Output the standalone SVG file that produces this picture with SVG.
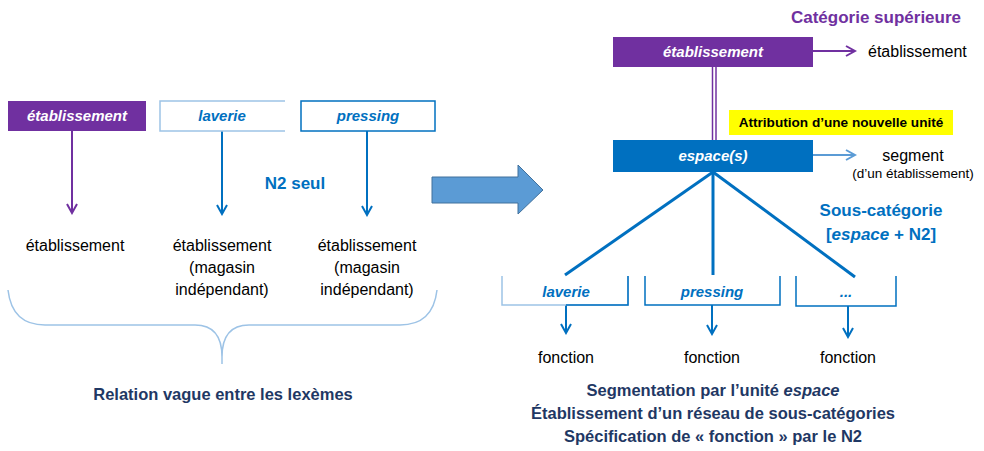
<svg xmlns="http://www.w3.org/2000/svg" width="984" height="451" viewBox="0 0 984 451">
<defs>
<style>
text{font-family:"Liberation Sans",Arial,sans-serif}
.blk{font-size:16px;fill:#000}
.it{font-style:italic;font-weight:bold;font-size:15px}
.nav{font-size:16.5px;font-weight:bold;fill:#1F3864}
.hd{font-size:17px;font-weight:bold}
</style>
<marker id="ap" viewBox="0 0 12 12" refX="10" refY="6" markerWidth="12" markerHeight="12" markerUnits="userSpaceOnUse" orient="auto"><path d="M1,1 L10,6 L1,11" fill="none" stroke="#7030A0" stroke-width="2"/></marker>
<marker id="ab" viewBox="0 0 12 12" refX="10" refY="6" markerWidth="12" markerHeight="12" markerUnits="userSpaceOnUse" orient="auto"><path d="M1,1 L10,6 L1,11" fill="none" stroke="#0070C0" stroke-width="2"/></marker>
<marker id="al" viewBox="0 0 12 12" refX="10" refY="6" markerWidth="12" markerHeight="12" markerUnits="userSpaceOnUse" orient="auto"><path d="M1,1 L10,6 L1,11" fill="none" stroke="#5B9BD5" stroke-width="2"/></marker>
</defs>
<rect width="984" height="451" fill="#fff"/>

<g id="connectors">
<line x1="72" y1="131" x2="72" y2="213" stroke="#7030A0" stroke-width="2" marker-end="url(#ap)"/>
<line x1="222" y1="131" x2="222" y2="214" stroke="#0070C0" stroke-width="2" marker-end="url(#ab)"/>
<line x1="367" y1="131" x2="367" y2="215" stroke="#0070C0" stroke-width="2" marker-end="url(#ab)"/>
<path d="M8,290 Q12,325 45,325 L195,325 Q222,325 222,357 L222,364 M222,357 Q222,325 249,325 L400,325 Q433,325 437,290" fill="none" stroke="#9DC3E6" stroke-width="1.5"/>
<line x1="813" y1="51" x2="855" y2="51" stroke="#7030A0" stroke-width="2" marker-end="url(#ap)"/>
<line x1="712.5" y1="67" x2="712.5" y2="140" stroke="#7030A0" stroke-width="1.5"/>
<line x1="716" y1="67" x2="716" y2="140" stroke="#7030A0" stroke-width="1.5"/>
<line x1="813" y1="155" x2="855" y2="155" stroke="#5B9BD5" stroke-width="2" marker-end="url(#al)"/>
<line x1="713" y1="172" x2="565" y2="275" stroke="#0070C0" stroke-width="3"/>
<line x1="713" y1="172" x2="713" y2="275" stroke="#0070C0" stroke-width="3"/>
<line x1="713" y1="172" x2="855" y2="277" stroke="#0070C0" stroke-width="3"/>
<line x1="566" y1="305" x2="566" y2="333" stroke="#0070C0" stroke-width="2" marker-end="url(#ab)"/>
<line x1="712" y1="305" x2="712" y2="334" stroke="#0070C0" stroke-width="2" marker-end="url(#ab)"/>
<line x1="848" y1="306" x2="848" y2="337" stroke="#0070C0" stroke-width="2" marker-end="url(#ab)"/>
</g>

<g id="n-etab-left">
<rect x="8" y="101" width="138" height="30" fill="#7030A0"/>
<text x="77" y="121" class="it" fill="#fff" text-anchor="middle">établissement</text>
</g>
<g id="n-laverie-left">
<path d="M285,101 L160,101 L160,131 L285,131" fill="none" stroke="#9DC3E6" stroke-width="1.5"/>
<text x="222" y="121" class="it" fill="#0070C0" text-anchor="middle">laverie</text>
</g>
<g id="n-pressing-left">
<rect x="301" y="101" width="134" height="30" fill="#fff" stroke="#0070C0" stroke-width="1.5"/>
<text x="368" y="121" class="it" fill="#0070C0" text-anchor="middle">pressing</text>
</g>
<g id="t-left">
<text x="75" y="251" class="blk" text-anchor="middle">établissement</text>
<text x="222" y="251" class="blk" text-anchor="middle">établissement</text>
<text x="222" y="273" class="blk" text-anchor="middle">(magasin</text>
<text x="222" y="295" class="blk" text-anchor="middle">indépendant)</text>
<text x="367" y="251" class="blk" text-anchor="middle">établissement</text>
<text x="367" y="273" class="blk" text-anchor="middle">(magasin</text>
<text x="367" y="295" class="blk" text-anchor="middle">indépendant)</text>
<text x="295" y="189" class="hd" fill="#0070C0" text-anchor="middle">N2 seul</text>
<text x="223" y="400" class="nav" text-anchor="middle">Relation vague entre les lexèmes</text>
</g>

<g id="big-arrow">
<path d="M432,177 L518,177 L518,165 L543,190 L518,214 L518,203 L432,203 Z" fill="#5B9BD5" stroke="#41719C" stroke-width="1"/>
</g>

<g id="n-cat-sup">
<text x="876" y="23" class="hd" font-size="17.5" fill="#7030A0" text-anchor="middle">Catégorie supérieure</text>
</g>
<g id="n-etab-right">
<rect x="613" y="37" width="200" height="30" fill="#7030A0"/>
<text x="713" y="57" class="it" fill="#fff" text-anchor="middle">établissement</text>
<text x="868" y="57" class="blk">établissement</text>
</g>
<g id="n-attrib">
<rect x="729" y="110" width="224" height="25" fill="#FFFF00"/>
<text x="841" y="127" font-size="13.6" font-weight="bold" fill="#000" text-anchor="middle">Attribution d’une nouvelle unité</text>
</g>
<g id="n-espace">
<rect x="613" y="140" width="200" height="32" fill="#0070C0"/>
<text x="713" y="161" class="it" fill="#fff" text-anchor="middle">espace(s)</text>
<text x="913" y="161" class="blk" text-anchor="middle">segment</text>
<text x="913" y="178" font-size="13.5" fill="#000" text-anchor="middle">(d’un établissement)</text>
</g>
<g id="n-souscat">
<text x="881" y="216" class="hd" fill="#0070C0" text-anchor="middle">Sous-catégorie</text>
<text x="881" y="240" class="hd" fill="#0070C0" text-anchor="middle">[<tspan font-style="italic">espace</tspan> + N2]</text>
</g>
<g id="n-laverie-right">
<path d="M502,276 L502,305 L628,305 L628,276" fill="none" stroke="#9DC3E6" stroke-width="1.5"/>
<path d="M628,276 L628,305 L566,305" fill="none" stroke="#0070C0" stroke-width="1.5"/>
<text x="566" y="297" class="it" fill="#0070C0" text-anchor="middle">laverie</text>
</g>
<g id="n-pressing-right">
<path d="M645,276 L645,305 L780,305 L780,276" fill="none" stroke="#0070C0" stroke-width="1.5"/>
<text x="712" y="297" class="it" fill="#0070C0" text-anchor="middle">pressing</text>
</g>
<g id="n-etc-right">
<path d="M796,276 L796,306 L896,306 L896,276" fill="none" stroke="#0070C0" stroke-width="1.5"/>
<text x="846" y="297" class="it" fill="#0070C0" text-anchor="middle">...</text>
</g>
<g id="t-right">
<text x="566" y="363" class="blk" text-anchor="middle">fonction</text>
<text x="712" y="363" class="blk" text-anchor="middle">fonction</text>
<text x="848" y="363" class="blk" text-anchor="middle">fonction</text>
<text x="713" y="396" class="nav" text-anchor="middle">Segmentation par l’unité <tspan font-style="italic">espace</tspan></text>
<text x="713" y="419" class="nav" text-anchor="middle">Établissement d’un réseau de sous-catégories</text>
<text x="713" y="442" class="nav" text-anchor="middle">Spécification de « fonction » par le N2</text>
</g>
</svg>
